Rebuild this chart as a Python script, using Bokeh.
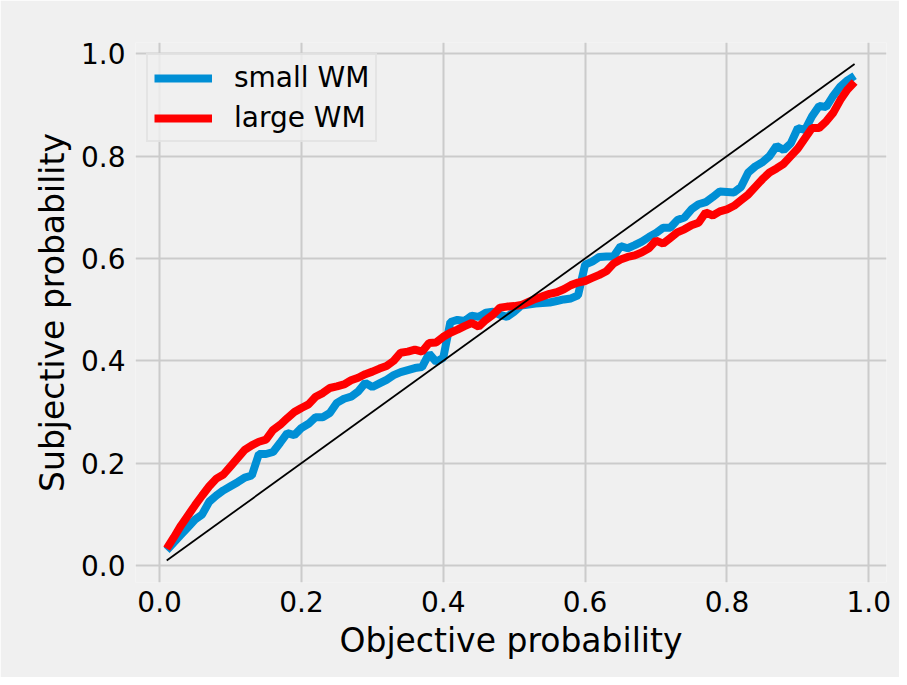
from bokeh.plotting import figure
from bokeh.models import Legend, LegendItem, FixedTicker, Range1d, CustomJSTickFormatter
from bokeh.embed import file_html
from bokeh.resources import INLINE

x_vals = [round(0.01 * i, 2) for i in range(1, 99)]

small_wm = [
    0.030, 0.045, 0.060, 0.075, 0.090, 0.100, 0.125, 0.137, 0.147, 0.155,
    0.163, 0.172, 0.176, 0.218, 0.218, 0.222, 0.240, 0.259, 0.255, 0.269,
    0.277, 0.290, 0.290, 0.298, 0.318, 0.326, 0.330, 0.340, 0.357, 0.349,
    0.356, 0.363, 0.372, 0.378, 0.382, 0.386, 0.388, 0.414, 0.398, 0.406,
    0.476, 0.480, 0.478, 0.488, 0.486, 0.494, 0.496, 0.490, 0.486, 0.496,
    0.508, 0.510, 0.512, 0.513, 0.514, 0.517, 0.520, 0.522, 0.528, 0.588,
    0.594, 0.603, 0.604, 0.604, 0.624, 0.620, 0.626, 0.633, 0.642, 0.650,
    0.660, 0.660, 0.675, 0.680, 0.696, 0.706, 0.710, 0.720, 0.731, 0.730,
    0.729, 0.740, 0.768, 0.780, 0.788, 0.800, 0.820, 0.812, 0.825, 0.855,
    0.851, 0.878, 0.898, 0.896, 0.918, 0.936, 0.948, 0.957,
]

large_wm = [
    0.033, 0.055, 0.078, 0.098, 0.118, 0.137, 0.155, 0.170, 0.178, 0.194,
    0.210, 0.226, 0.235, 0.242, 0.246, 0.265, 0.275, 0.288, 0.300, 0.308,
    0.315, 0.330, 0.337, 0.347, 0.350, 0.354, 0.362, 0.367, 0.374, 0.379,
    0.385, 0.390, 0.400, 0.416, 0.418, 0.422, 0.418, 0.435, 0.436, 0.447,
    0.455, 0.461, 0.468, 0.474, 0.467, 0.480, 0.490, 0.504, 0.506, 0.507,
    0.509, 0.515, 0.521, 0.526, 0.531, 0.534, 0.540, 0.548, 0.553, 0.556,
    0.562, 0.568, 0.575, 0.590, 0.598, 0.603, 0.606, 0.612, 0.620, 0.635,
    0.629, 0.640, 0.651, 0.657, 0.665, 0.670, 0.690, 0.684, 0.692, 0.696,
    0.703, 0.714, 0.725, 0.740, 0.755, 0.768, 0.776, 0.785, 0.800, 0.815,
    0.835, 0.855, 0.855, 0.868, 0.885, 0.910, 0.930, 0.945,
]

diag_x = [0.01, 0.98]
diag_y = [0.01, 0.98]

ticks = [0.0, 0.2, 0.4, 0.6, 0.8, 1.0]
series_names = ["small WM", "large WM"]

BG = "#f0f0f0"
GRID = "#cbcbcb"
FONT = "DejaVu Sans"

p = figure(
    width=899, height=677,
    output_backend="svg", toolbar_location=None,
    x_range=Range1d(-0.034, 1.025), y_range=Range1d(-0.033, 1.022),
    min_border_left=135, min_border_right=13,
    min_border_top=42, min_border_bottom=95,
)
p.background_fill_color = BG
p.border_fill_color = BG
p.outline_line_color = None

p.xgrid.grid_line_color = GRID
p.ygrid.grid_line_color = GRID
p.xgrid.grid_line_width = 2
p.ygrid.grid_line_width = 2

fmt = CustomJSTickFormatter(code="return tick.toFixed(1);")
for ax in (p.xaxis[0], p.yaxis[0]):
    ax.ticker = FixedTicker(ticks=ticks)
    ax.formatter = fmt
    ax.axis_line_color = None
    ax.major_tick_line_color = None
    ax.minor_tick_line_color = None
    ax.major_tick_in = 0
    ax.major_tick_out = 0
    ax.minor_tick_out = 0
    ax.major_label_text_font = FONT
    ax.major_label_text_font_size = "28px"
    ax.major_label_text_color = "black"
    ax.axis_label_text_font = FONT
    ax.axis_label_text_font_size = "33px"
    ax.axis_label_text_font_style = "normal"
    ax.axis_label_text_color = "black"

p.xaxis[0].axis_label = "Objective probability"
p.yaxis[0].axis_label = "Subjective probability"
p.xaxis[0].major_label_standoff = 8
p.yaxis[0].major_label_standoff = 10
p.xaxis[0].axis_label_standoff = 6
p.yaxis[0].axis_label_standoff = 6

r_small = p.line(x_vals, small_wm, line_color="#008fd5", line_width=8)
r_large = p.line(x_vals, large_wm, line_color="red", line_width=8)
p.line(diag_x, diag_y, line_color="black", line_width=1.8)

legend = Legend(
    items=[LegendItem(label=series_names[0], renderers=[r_small]),
           LegendItem(label=series_names[1], renderers=[r_large])],
    location="top_left",
    margin=11,
    padding=6,
    spacing=7,
    glyph_width=58,
    glyph_height=28,
    label_standoff=22,
    label_text_font=FONT,
    label_text_font_size="28px",
    label_text_color="black",
    background_fill_color=BG,
    background_fill_alpha=0.8,
    border_line_color="#d8d8d8",
    border_line_width=2,
)
p.add_layout(legend, "center")

open("out.html", "w").write(file_html(p, INLINE))
